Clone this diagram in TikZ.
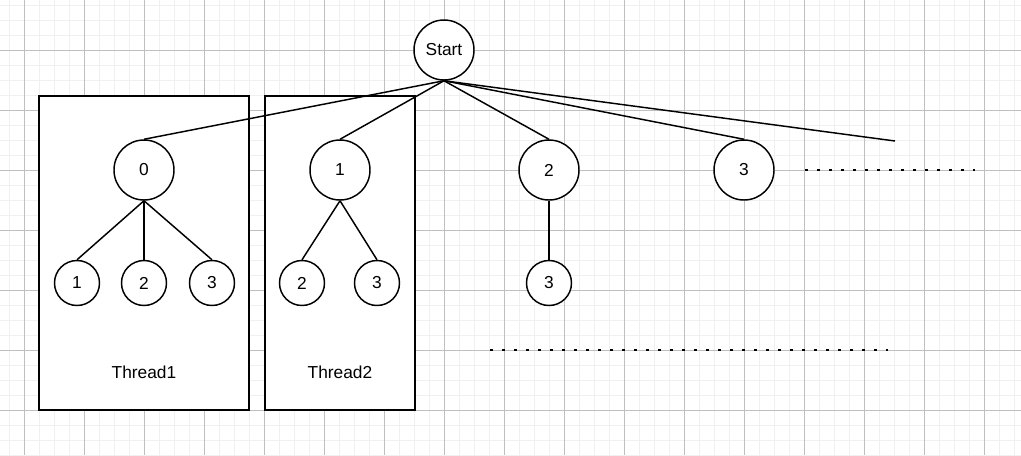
\documentclass[tikz,border=0pt]{standalone}
\usepackage{fontspec}
\setmainfont{Liberation Sans}
\usetikzlibrary{positioning}

\begin{document}
\begin{tikzpicture}[
  x=0.75pt, y=-0.75pt,
  font=\fontsize{13}{15}\selectfont,
  minorline/.style={line width=0.75pt, black!6},
  majorline/.style={line width=0.75pt, gray!50},
  task/.style={draw, circle, fill=white, line width=1.1pt, minimum size=45pt, inner sep=0pt},
  subtask/.style={task, minimum size=33.75pt},
  thread/.style={draw, fill=white, line width=1.1pt, inner sep=0pt, minimum height=235.5pt},
  link/.style={line width=1.1pt},
  more/.style={line width=1.9pt, dash pattern=on 1.9pt off 7.1pt}
]
\useasboundingbox (0,0) rectangle (1021,455);

% background grid
\fill[white] (0,0) rectangle (1021,455);
\foreach \gx in {9,24,...,1014} \draw[minorline] (\gx,0) -- (\gx,455);
\foreach \gy in {5,20,...,455} \draw[minorline] (0,\gy) -- (1021,\gy);
\foreach \gx in {24,84,...,1014} \draw[majorline] (\gx,0) -- (\gx,455);
\foreach \gy in {50,110,...,455} \draw[majorline] (0,\gy) -- (1021,\gy);

% threads
\node[thread, minimum width=157.5pt] (thread1) at (144,253) {};
\node[thread, minimum width=112.5pt] (thread2) at (340,253) {};
\node (lbl1) at (144,372) {Thread1};
\node (lbl2) at (340,372) {Thread2};

% tree
\node[task] (start) at (444,50) {Start};
\node[task] (n0) at (144,170) {0};
\node[task] (n1) at (340,170) {1};
\node[task] (n2) at (549,170) {2};
\node[task] (n3) at (744,170) {3};
\coordinate (tail) at (895,141);

\node[subtask] (n01) at (77,283) {1};
\node[subtask] (n02) at (144,283) {2};
\node[subtask] (n03) at (212,283) {3};
\node[subtask] (n12) at (302,283) {2};
\node[subtask] (n13) at (377,283) {3};
\node[subtask] (n23) at (549,283) {3};

\draw[link] (start.south) -- (n0.north);
\draw[link] (start.south) -- (n1.north);
\draw[link] (start.south) -- (n2.north);
\draw[link] (start.south) -- (n3.north);
\draw[link] (start.south) -- (tail);

\draw[link] (n0.south) -- (n01.north);
\draw[link] (n0.south) -- (n02.north);
\draw[link] (n0.south) -- (n03.north);
\draw[link] (n1.south) -- (n12.north);
\draw[link] (n1.south) -- (n13.north);
\draw[link] (n2.south) -- (n23.north);

% continuation dots
\coordinate (rowA) at (805,170);
\coordinate (rowB) at (975,170);
\coordinate (rowC) at (490,350);
\coordinate (rowD) at (888,350);
\draw[more] (rowA) -- (rowB);
\draw[more] (rowC) -- (rowD);
\end{tikzpicture}
\end{document}
